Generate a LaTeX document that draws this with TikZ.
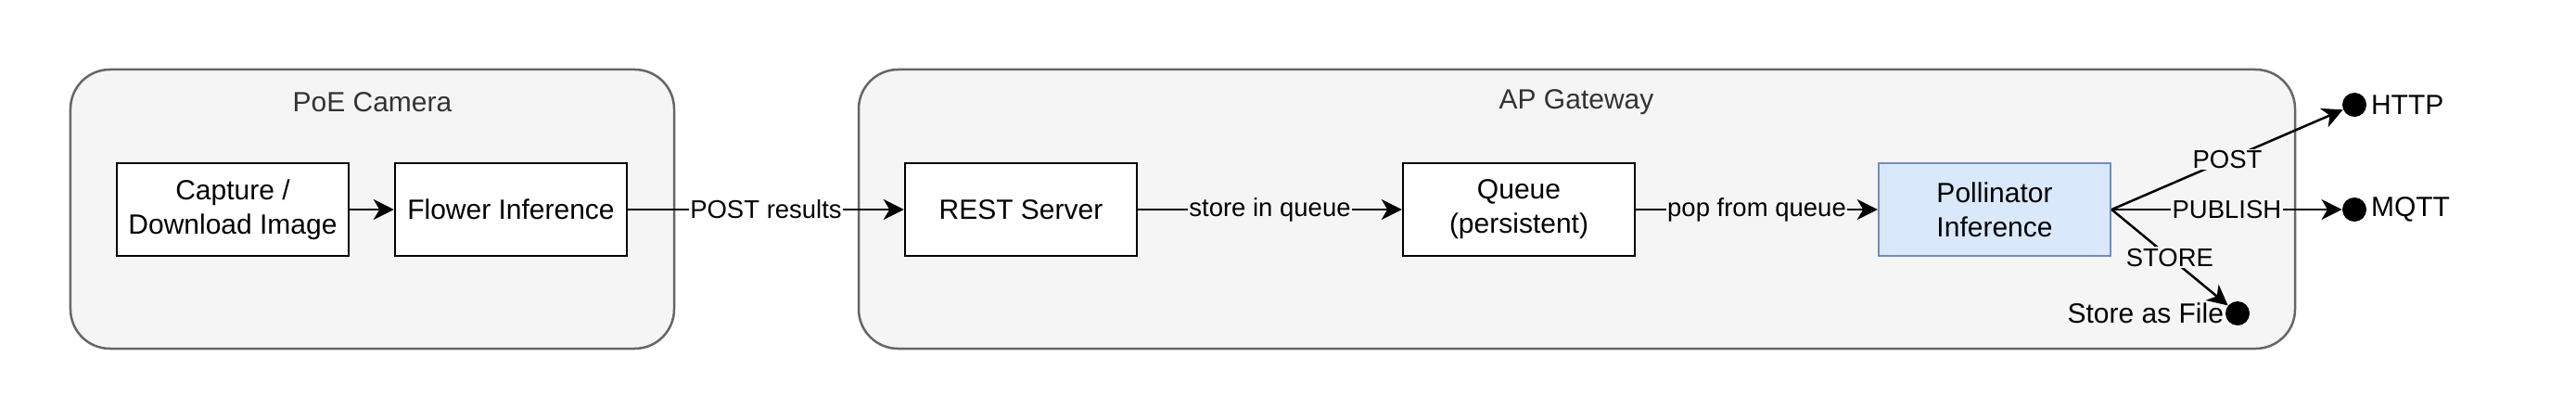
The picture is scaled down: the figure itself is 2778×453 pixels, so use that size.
\documentclass[tikz,border=0pt]{standalone}
\usepackage{fontspec}
\setmainfont{Liberation Sans}
\usetikzlibrary{arrows.meta}
\definecolor{groupfill}{HTML}{F5F5F5}
\definecolor{groupline}{HTML}{666666}
\definecolor{grouptext}{HTML}{333333}
\definecolor{pollfill}{HTML}{DAE8FC}
\definecolor{pollline}{HTML}{6C8EBF}

\begin{document}
\begin{tikzpicture}[x=0.4pt,y=-0.4pt,
        box style/.style={draw,line width=1pt,fill=white,minimum width=100pt,minimum height=40pt,align=center,font=\fontsize{12}{14.8}\selectfont},
        group style/.style={draw=groupline,fill=groupfill,line width=1pt,rounded corners=17pt,minimum height=120.4pt},
        title style/.style={text=grouptext,inner sep=0pt,font=\fontsize{12}{14.8}\selectfont},
        dot style/.style={circle,fill=black,inner sep=0pt,minimum size=10.4pt},
        end label/.style={inner sep=0pt,font=\fontsize{12}{14.8}\selectfont},
        link style/.style={-{Stealth[length=8.8pt,width=8.8pt,inset=2.6pt]},line width=1pt},
        link label/.style={fill=groupfill,inner sep=0.6pt,font=\fontsize{11}{13}\selectfont}]
        \useasboundingbox (0,0) rectangle (2778,453);
        \node[group style,minimum width=260.4pt] (camera) at (401.5,225.5) {};
        \node[title style] (camera title) at (401.5,110) {PoE Camera};
        \node[group style,minimum width=619.6pt] (gateway) at (1700.5,225.5) {};
        \node[title style] (gateway title) at (1700,110) {AP Gateway};
        \node[box style] (capture) at (251,226) {Capture /\\Download Image};
        \node[box style] (flower) at (551,226) {Flower Inference};
        \node[box style] (rest) at (1101,226) {REST Server};
        \node[box style] (queue) at (1638,226) {Queue\\(persistent)};
        \node[box style,fill=pollfill,draw=pollline] (pollinator) at (2151,226) {Pollinator\\Inference};
        \node[dot style] (http) at (2539,113) {};
        \node[dot style] (mqtt) at (2539,226) {};
        \node[dot style] (file) at (2413,338) {};
        \node[end label,anchor=west] (http label) at ([xshift=1.6pt]http.east) {HTTP};
        \node[end label,anchor=west] (mqtt label) at ([xshift=1.6pt]mqtt.east) {MQTT};
        \node[end label,anchor=east] (file label) at ([xshift=-0.4pt]file.west) {Store as File};
        \draw[link style] (capture) -- (flower);
        \draw[link style] (flower) -- node[link label,fill=white] {POST results} (rest);
        \draw[link style] (rest) -- node[link label] {store in queue} (queue);
        \draw[link style] (queue) -- node[link label] {pop from queue} (pollinator);
        \draw[link style] (pollinator.east) -- node[link label] {POST} (http);
        \draw[link style] (pollinator.east) -- node[link label] {PUBLISH} (mqtt);
        \draw[link style] (pollinator.east) -- node[link label] {STORE} (file);
    \end{tikzpicture}
\end{document}
